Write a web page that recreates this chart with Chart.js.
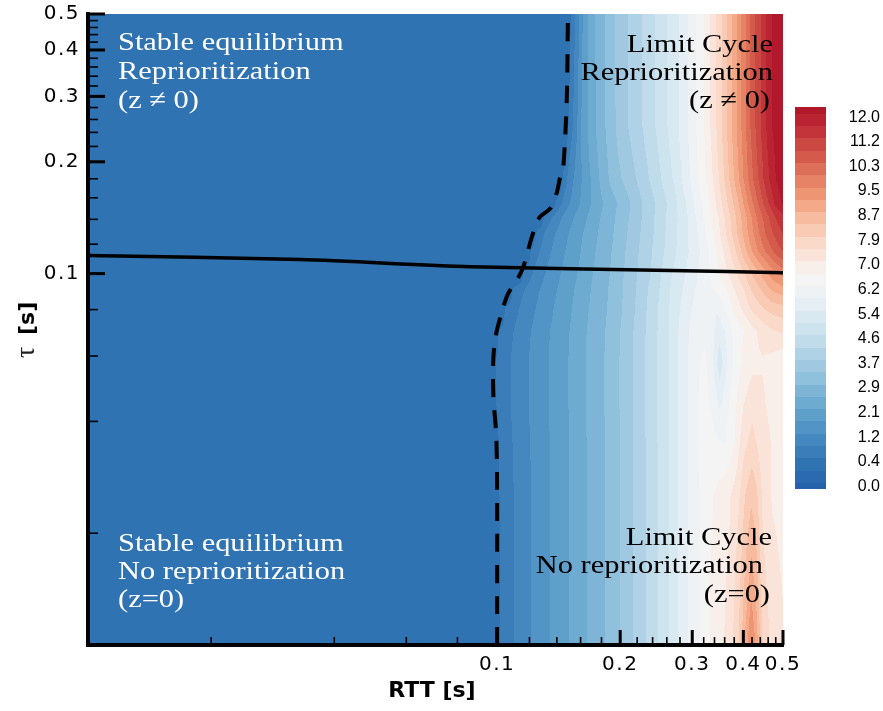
<!DOCTYPE html>
<html>
<head>
<meta charset="utf-8">
<script src="https://cdn.jsdelivr.net/npm/chart.js@4.4.1/dist/chart.umd.min.js"></script>
<style>
  html, body { margin: 0; padding: 0; background: #fff; }
  canvas { display: block; }
</style>
</head>
<body>
<canvas id="c" width="883" height="711"></canvas>
<script>
// ---------------- data ----------------
const rttRange = [0.01, 0.5];
const tauRange = [0.01, 0.5];
const majorTicks = [0.1, 0.2, 0.3, 0.4, 0.5];
const minorTicks = [0.02, 0.04, 0.06, 0.08, 0.12, 0.14, 0.16, 0.18, 0.22, 0.24, 0.26, 0.28,
                    0.32, 0.34, 0.36, 0.38, 0.42, 0.44, 0.46, 0.48];

// contour levels: 0 .. 12 in 29 equal steps
const levelMax = 12.0;
const levelSteps = 29;
const colorbarLabelLevels = [0, 1, 3, 5, 7, 9, 11, 13, 15, 17, 19, 21, 23, 25, 27, 29];

// oscillation amplitude, one profile along RTT per tau row: [RTT, amplitude]
const tauRows = [0.010, 0.015, 0.025, 0.035, 0.045, 0.058, 0.070, 0.080, 0.090, 0.100,
                 0.115, 0.128, 0.142, 0.155, 0.180, 0.250, 0.500];
const rowKnots = [
  [[0.100,0],[0.1015,0.45],[0.114,1.0],[0.1295,1.5],[0.148,2.0],[0.162,2.4],[0.180,2.8],[0.196,3.2],[0.211,3.6],[0.237,4.3],[0.265,5.0],[0.285,5.6],[0.308,6.1],[0.330,6.6],[0.350,6.9],[0.370,7.2],[0.390,7.9],[0.405,8.8],[0.418,9.6],[0.430,9.0],[0.445,7.9],[0.470,7.3],[0.500,7.1]],
  [[0.100,0],[0.1015,0.45],[0.114,1.0],[0.1295,1.5],[0.148,2.0],[0.162,2.4],[0.180,2.8],[0.196,3.2],[0.211,3.6],[0.237,4.3],[0.265,5.0],[0.285,5.6],[0.308,6.1],[0.330,6.6],[0.350,6.9],[0.370,7.1],[0.390,7.7],[0.405,8.4],[0.418,8.9],[0.430,8.5],[0.445,7.6],[0.470,7.2],[0.500,7.0]],
  [[0.100,0],[0.1015,0.45],[0.114,1.0],[0.1295,1.5],[0.148,2.0],[0.162,2.4],[0.180,2.8],[0.196,3.2],[0.211,3.6],[0.237,4.3],[0.265,5.0],[0.285,5.6],[0.308,6.1],[0.330,6.5],[0.350,6.8],[0.370,7.0],[0.390,7.4],[0.405,7.9],[0.418,8.2],[0.430,8.0],[0.445,7.4],[0.470,7.0],[0.500,6.9]],
  [[0.0995,0],[0.101,0.45],[0.113,1.0],[0.129,1.5],[0.148,2.0],[0.162,2.4],[0.180,2.8],[0.196,3.2],[0.211,3.6],[0.237,4.3],[0.265,5.0],[0.285,5.6],[0.305,6.1],[0.320,6.5],[0.340,6.3],[0.360,6.2],[0.380,6.6],[0.400,7.3],[0.420,7.6],[0.440,7.3],[0.470,7.0],[0.500,6.9]],
  [[0.098,0],[0.0995,0.45],[0.112,1.0],[0.128,1.5],[0.147,2.0],[0.161,2.4],[0.179,2.8],[0.195,3.2],[0.210,3.6],[0.236,4.3],[0.264,5.0],[0.285,5.6],[0.305,6.1],[0.320,6.4],[0.337,6.1],[0.350,5.7],[0.362,6.0],[0.380,6.5],[0.400,7.0],[0.420,7.3],[0.445,7.1],[0.470,6.9],[0.500,6.7]],
  [[0.0978,0],[0.0993,0.45],[0.112,1.0],[0.128,1.5],[0.147,2.0],[0.161,2.4],[0.179,2.8],[0.195,3.2],[0.210,3.6],[0.236,4.3],[0.264,5.0],[0.285,5.6],[0.305,6.1],[0.322,6.3],[0.337,5.8],[0.350,5.1],[0.363,5.7],[0.380,6.3],[0.400,6.7],[0.420,6.9],[0.445,7.0],[0.470,6.9],[0.500,6.7]],
  [[0.0995,0],[0.101,0.45],[0.114,1.0],[0.129,1.5],[0.148,2.0],[0.162,2.4],[0.180,2.8],[0.196,3.2],[0.211,3.6],[0.237,4.3],[0.265,5.0],[0.285,5.6],[0.305,6.0],[0.322,6.1],[0.337,5.9],[0.350,5.6],[0.365,5.9],[0.380,6.3],[0.400,6.6],[0.420,6.9],[0.445,7.2],[0.470,7.4],[0.500,7.5]],
  [[0.103,0],[0.1045,0.45],[0.117,1.0],[0.132,1.5],[0.150,2.0],[0.164,2.4],[0.182,2.8],[0.198,3.2],[0.213,3.6],[0.238,4.3],[0.265,5.0],[0.285,5.5],[0.305,5.9],[0.325,6.0],[0.345,5.8],[0.365,6.3],[0.380,6.7],[0.400,7.1],[0.420,7.5],[0.445,7.8],[0.470,8.0],[0.500,8.1]],
  [[0.1075,0],[0.109,0.45],[0.120,1.0],[0.135,1.5],[0.152,2.0],[0.166,2.4],[0.183,2.8],[0.199,3.2],[0.214,3.6],[0.240,4.3],[0.266,5.0],[0.285,5.4],[0.305,5.8],[0.320,6.0],[0.340,6.2],[0.360,6.5],[0.380,7.0],[0.400,7.4],[0.420,7.9],[0.445,8.3],[0.470,8.7],[0.500,8.9]],
  [[0.1145,0],[0.116,0.45],[0.125,1.0],[0.138,1.5],[0.155,2.0],[0.168,2.4],[0.185,2.8],[0.200,3.2],[0.215,3.6],[0.240,4.2],[0.265,4.9],[0.285,5.3],[0.305,5.7],[0.320,6.0],[0.340,6.4],[0.360,6.9],[0.380,7.3],[0.400,7.8],[0.420,8.3],[0.445,8.8],[0.470,9.3],[0.500,9.7]],
  [[0.119,0],[0.121,0.45],[0.130,1.0],[0.142,1.5],[0.158,2.0],[0.171,2.4],[0.187,2.8],[0.202,3.2],[0.217,3.6],[0.242,4.2],[0.267,4.8],[0.290,5.3],[0.310,5.7],[0.330,6.2],[0.350,6.8],[0.370,7.4],[0.390,8.1],[0.410,8.8],[0.430,9.4],[0.455,10.0],[0.480,10.5],[0.500,10.8]],
  [[0.1224,0],[0.1245,0.45],[0.133,1.0],[0.145,1.5],[0.160,2.0],[0.173,2.4],[0.189,2.8],[0.204,3.2],[0.219,3.6],[0.244,4.2],[0.268,4.8],[0.290,5.3],[0.310,5.8],[0.330,6.4],[0.350,7.0],[0.370,7.7],[0.390,8.4],[0.410,9.1],[0.430,9.7],[0.455,10.4],[0.480,10.9],[0.500,11.2]],
  [[0.128,0],[0.1305,0.45],[0.139,1.0],[0.150,1.5],[0.164,2.0],[0.176,2.4],[0.191,2.8],[0.206,3.2],[0.221,3.6],[0.245,4.2],[0.270,4.8],[0.290,5.3],[0.310,5.9],[0.330,6.5],[0.350,7.1],[0.370,7.8],[0.390,8.5],[0.410,9.2],[0.430,9.9],[0.455,10.6],[0.480,11.2],[0.500,11.5]],
  [[0.137,0],[0.1395,0.45],[0.146,1.0],[0.156,1.5],[0.168,2.0],[0.179,2.4],[0.193,2.8],[0.208,3.2],[0.222,3.6],[0.246,4.2],[0.270,4.8],[0.290,5.4],[0.310,6.0],[0.330,6.6],[0.350,7.3],[0.370,8.0],[0.390,8.7],[0.410,9.5],[0.430,10.2],[0.455,11.0],[0.480,11.7],[0.500,12.1]],
  [[0.1425,0],[0.145,0.45],[0.150,1.0],[0.158,1.5],[0.168,2.0],[0.178,2.5],[0.190,3.0],[0.205,3.4],[0.222,3.8],[0.246,4.4],[0.270,5.0],[0.290,5.6],[0.310,6.2],[0.330,6.8],[0.350,7.5],[0.370,8.3],[0.390,9.1],[0.410,9.9],[0.430,10.6],[0.455,11.4],[0.480,12.0],[0.500,12.3]],
  [[0.147,0],[0.150,0.5],[0.155,1.0],[0.161,1.7],[0.170,2.3],[0.184,2.9],[0.200,3.5],[0.225,4.1],[0.250,4.7],[0.275,5.3],[0.300,6.0],[0.320,6.6],[0.340,7.3],[0.360,8.1],[0.380,8.9],[0.400,9.7],[0.420,10.5],[0.445,11.3],[0.470,12.0],[0.500,12.4]],
  [[0.149,0],[0.152,0.5],[0.157,1.0],[0.163,1.8],[0.172,2.4],[0.186,3.0],[0.200,3.5],[0.225,4.1],[0.250,4.7],[0.275,5.3],[0.300,6.0],[0.320,6.6],[0.340,7.3],[0.360,8.1],[0.380,8.9],[0.400,9.7],[0.420,10.5],[0.445,11.3],[0.470,12.0],[0.500,12.4]]
];

// stability boundary (dashed) and z = 0 boundary (solid): [RTT, tau]
const stabilityBoundary = [
  [0.1000,0.0100],[0.1000,0.0270],[0.0995,0.0370],[0.0980,0.0460],[0.0978,0.0570],
  [0.0990,0.0670],[0.1029,0.0794],[0.1064,0.0883],[0.1126,0.0975],[0.1158,0.1038],
  [0.1190,0.1154],[0.1224,0.1283],[0.1270,0.1417],[0.1349,0.1498],[0.1400,0.1655],
  [0.1426,0.1816],[0.1450,0.1900],[0.1480,0.2935],[0.1490,0.5000]
];
const zBoundary = [
  [0.010,0.1118],[0.033,0.1091],[0.086,0.1044],[0.265,0.1019],[0.500,0.1006]
];

// ---------------- styles ----------------
const bandColors = [
  '#2562ab','#2b6aae','#3073b2','#3a7db8','#4588bf','#5194c5','#5fa0cb','#6eabd1',
  '#7eb5d7','#8fc0dc','#a0c9e1','#b0d2e6','#c0dbea','#cde3ee','#d9e9f1','#e4eef4',
  '#eef2f5','#f5f4f4','#f8eeea','#fae4da','#fad9c9','#f9cbb5','#f7bb9f','#f4aa89',
  '#ee9674','#e68265','#dd6e58','#d45b4c','#cb4843','#c2343a','#b92332','#b2182b'
];
const levelStep = levelMax / levelSteps;

function hexToRgb(h) {
  const n = parseInt(h.slice(1), 16);
  return [(n >> 16) & 255, (n >> 8) & 255, n & 255];
}

// band index (into bandColors) for an amplitude value
function bandIndex(v) {
  const k = Math.floor(v / levelStep + 1e-9);
  return Math.min(Math.max(k, 0), levelSteps) + 2;
}

// amplitude along one tau row, piecewise linear in log(RTT); zero left of the boundary
function rowValue(knots, r) {
  if (r <= knots[0][0]) return 0;
  const lr = Math.log10(r);
  for (let i = 1; i < knots.length; i++) {
    if (r <= knots[i][0]) {
      const a = knots[i - 1], b = knots[i];
      const la = Math.log10(a[0]), lb = Math.log10(b[0]);
      const t = (lr - la) / (lb - la);
      return a[1] + t * (b[1] - a[1]);
    }
  }
  return knots[knots.length - 1][1];
}

// filled contour map of the amplitude
const contourFill = {
  id: 'contourFill',
  beforeDatasetsDraw(chart) {
    const { ctx, chartArea: a, scales: { x, y } } = chart;
    const L = Math.round(a.left), T = Math.round(a.top);
    const W = Math.round(a.right) - L, H = Math.round(a.bottom) - T;
    const rgb = bandColors.map(hexToRgb);
    const colRtt = [];
    for (let i = 0; i < W; i++) colRtt.push(x.getValueForPixel(L + i + 0.5));
    const rowCols = rowKnots.map(k => colRtt.map(r => rowValue(k, r)));
    const logTau = tauRows.map(v => Math.log10(v));
    const img = ctx.createImageData(W, H);
    const d = img.data;
    for (let j = 0; j < H; j++) {
      const lt = Math.log10(y.getValueForPixel(T + j + 0.5));
      let r = 0;
      while (r < tauRows.length - 2 && lt > logTau[r + 1]) r++;
      let t = (lt - logTau[r]) / (logTau[r + 1] - logTau[r]);
      t = Math.max(0, Math.min(1, t));
      const A = rowCols[r], B = rowCols[r + 1];
      for (let i = 0; i < W; i++) {
        const v = A[i] + t * (B[i] - A[i]);
        const c = rgb[bandIndex(v)];
        const p = (j * W + i) * 4;
        d[p] = c[0]; d[p + 1] = c[1]; d[p + 2] = c[2]; d[p + 3] = 255;
      }
    }
    ctx.putImageData(img, L, T);
  }
};

// inward tick marks, region notes, axis titles and colour bar
const frameDecor = {
  id: 'frameDecor',
  beforeDraw(chart) {
    chart.ctx.letterSpacing = '1.5px';
  },
  afterDatasetsDraw(chart) {
    const { ctx, chartArea: a, scales: { x, y } } = chart;
    ctx.save();
    ctx.letterSpacing = '0px';
    ctx.strokeStyle = '#000';
    const all = majorTicks.map(v => [v, true]).concat(minorTicks.map(v => [v, false]));
    for (const [v, major] of all) {
      ctx.lineWidth = major ? 3 : 1.6;
      const px = x.getPixelForValue(v);
      ctx.beginPath(); ctx.moveTo(px, a.bottom); ctx.lineTo(px, a.bottom - (major ? 15 : 8)); ctx.stroke();
      const py = y.getPixelForValue(v);
      ctx.beginPath(); ctx.moveTo(a.left, py); ctx.lineTo(a.left + (major ? 17 : 10), py); ctx.stroke();
    }
    const notes = [
      { color: '#fff', align: 'left', lines: [['Stable equilibrium', 118, 50], ['Reprioritization', 118, 79], ['(z \u2260 0)', 118, 108]] },
      { color: '#000', align: 'right', lines: [['Limit Cycle', 773, 52], ['Reprioritization', 773, 80], ['(z \u2260 0)', 770, 108]] },
      { color: '#fff', align: 'left', lines: [['Stable equilibrium', 118, 551], ['No reprioritization', 118, 579], ['(z=0)', 118, 607]] },
      { color: '#000', align: 'right', lines: [['Limit Cycle', 772, 545], ['No reprioritization', 763, 573], ['(z=0)', 770, 602]] }
    ];
    ctx.font = '26px "Liberation Serif"';
    ctx.textBaseline = 'alphabetic';
    for (const n of notes) {
      ctx.fillStyle = n.color;
      ctx.textAlign = n.align;
      for (const [txt, tx, ty] of n.lines) {
        ctx.save();
        ctx.translate(tx, ty);
        ctx.scale(1.17, 1);
        ctx.fillText(txt, 0, 0);
        ctx.restore();
      }
    }
    ctx.restore();
  },
  afterDraw(chart) {
    const { ctx } = chart;
    ctx.save();
    ctx.letterSpacing = '0px';
    ctx.fillStyle = '#000';
    // x axis title
    ctx.font = 'bold 22px "DejaVu Sans"';
    ctx.textAlign = 'center';
    ctx.textBaseline = 'alphabetic';
    ctx.fillText('RTT [s]', 432, 697);
    // y axis title
    ctx.save();
    ctx.translate(34, 330);
    ctx.rotate(-Math.PI / 2);
    ctx.textAlign = 'left';
    ctx.font = '28px "Liberation Serif"';
    ctx.fillStyle = '#222';
    ctx.fillText('\u03c4', -28, 0);
    ctx.fillStyle = '#000';
    ctx.font = 'bold 22px "DejaVu Sans"';
    ctx.fillText('[s]', -5, 0);
    ctx.restore();

    // colour bar
    const cb = { left: 795, right: 826, top: 107, bottom: 489, y0: 470.7, step: 12.31 };
    const yOf = k => cb.y0 - k * cb.step;
    const rect = (y1, y2, col) => {
      ctx.fillStyle = col;
      const t = Math.round(y1), b = Math.round(y2);
      ctx.fillRect(cb.left, t, cb.right - cb.left, b - t);
    };
    rect(yOf(-1), cb.bottom, bandColors[0]);
    rect(yOf(0), yOf(-1), bandColors[1]);
    for (let k = 0; k < levelSteps; k++) rect(yOf(k + 1), yOf(k), bandColors[k + 2]);
    rect(cb.top, yOf(levelSteps), bandColors[levelSteps + 2]);

    ctx.fillStyle = '#000';
    ctx.font = '16px "Liberation Sans"';
    ctx.textAlign = 'right';
    ctx.textBaseline = 'middle';
    for (const k of colorbarLabelLevels) {
      const txt = (k * levelStep).toFixed(1);
      const ty = k === 0 ? cb.bottom - 2 : yOf(k) + 3.5;
      ctx.fillText(txt, 880, ty);
    }
    ctx.restore();
  }
};

const tickFont = { family: 'DejaVu Sans', size: 20 };

new Chart(document.getElementById('c'), {
  type: 'scatter',
  data: {
    datasets: [
      {
        label: 'z boundary',
        data: zBoundary.map(([r, t]) => ({ x: r, y: t })),
        showLine: true, borderColor: '#000', borderWidth: 3.5, pointRadius: 0, tension: 0.3
      },
      {
        label: 'stability boundary',
        data: stabilityBoundary.map(([r, t]) => ({ x: r, y: t })),
        showLine: true, borderColor: '#000', borderWidth: 4, borderDash: [18, 13],
        pointRadius: 0, tension: 0.3
      }
    ]
  },
  options: {
    responsive: false,
    animation: false,
    devicePixelRatio: 1,
    layout: { padding: { left: 0, top: 14, right: 100, bottom: 0 } },
    plugins: { legend: { display: false }, tooltip: { enabled: false } },
    scales: {
      x: {
        type: 'logarithmic', min: rttRange[0], max: rttRange[1],
        afterBuildTicks: s => { s.ticks = majorTicks.map(v => ({ value: v })); },
        afterFit: s => { s.height = 66; s.paddingLeft = 0; s.paddingRight = 0; },
        grid: { display: false, drawTicks: false },
        border: { display: true, color: '#000', width: 4, z: 1 },
        ticks: { autoSkip: false, maxRotation: 0, padding: 8, color: '#000', font: tickFont,
                 callback: v => Number(v).toFixed(1) }
      },
      y: {
        type: 'logarithmic', min: tauRange[0], max: tauRange[1],
        afterBuildTicks: s => { s.ticks = majorTicks.map(v => ({ value: v })); },
        afterFit: s => { s.width = 88; s.paddingTop = 0; s.paddingBottom = 0; },
        grid: { display: false, drawTicks: false },
        border: { display: true, color: '#000', width: 4, z: 1 },
        ticks: { autoSkip: false, padding: 8, color: '#000', font: tickFont,
                 callback: v => Number(v).toFixed(1) }
      }
    }
  },
  plugins: [contourFill, frameDecor]
});
</script>
</body>
</html>
